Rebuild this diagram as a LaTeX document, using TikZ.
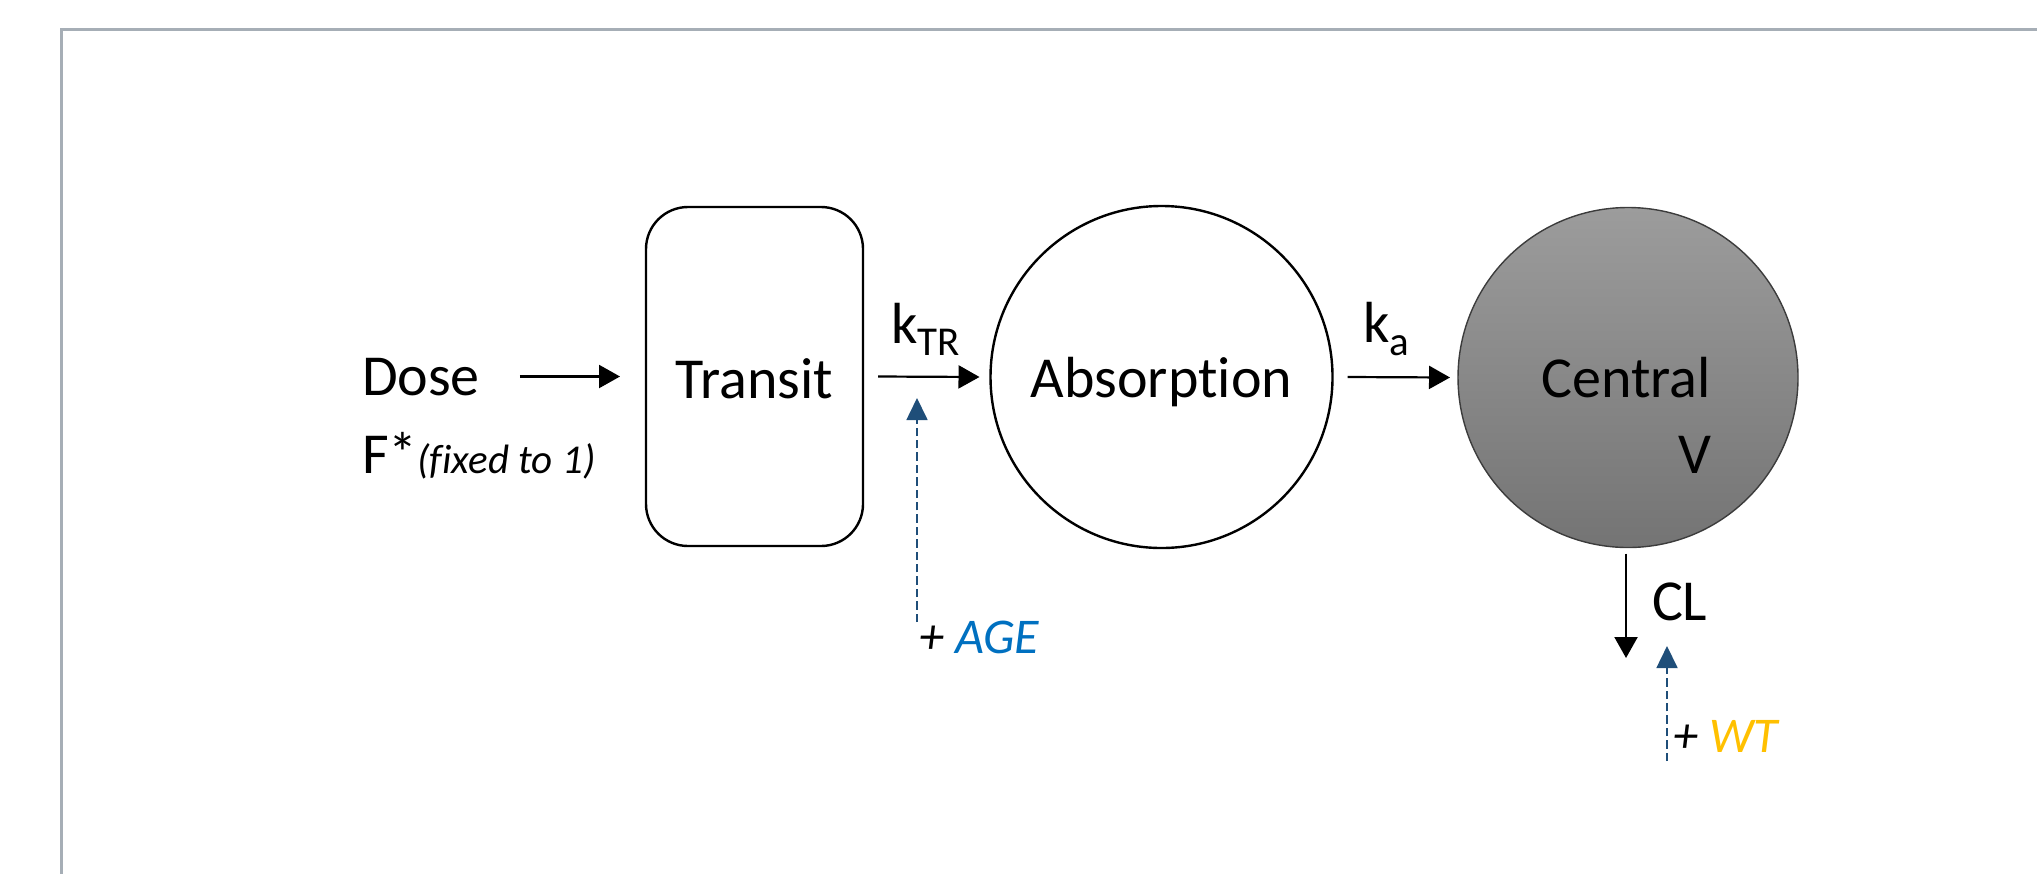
\documentclass[tikz,border=0pt]{standalone}
\usepackage{fontspec}
\setmainfont{Carlito}[Ligatures={NoCommon}]
\usetikzlibrary{arrows.meta,calc}

\definecolor{framegray}{RGB}{166,174,182}
\definecolor{covblue}{RGB}{31,78,121}
\definecolor{ageblue}{RGB}{0,112,192}
\definecolor{wtgold}{RGB}{255,192,0}
\definecolor{centraltop}{RGB}{156,156,156}
\definecolor{centralbot}{RGB}{116,116,116}
\definecolor{centralline}{RGB}{60,60,60}

\newcommand{\mainsize}{\fontsize{29}{35}\selectfont}
\newcommand{\subsize}{\fontsize{20.5}{24}\selectfont}
\newcommand{\covsize}{\fontsize{25}{30}\selectfont}

\begin{document}
\begin{tikzpicture}[x=0.5pt,y=-0.5pt,
  lbl/.style={inner sep=0pt, outer sep=0pt, font=\mainsize},
  covlbl/.style={inner sep=0pt, outer sep=0pt, font=\covsize\itshape},
  transitbox/.style={draw, line width=1.2pt, rectangle, rounded corners=21pt,
    minimum width=108.5pt, minimum height=169.5pt, inner sep=0pt, outer sep=0pt},
  absorbc/.style={draw, line width=1.2pt, circle, minimum size=171pt,
    inner sep=0pt, outer sep=0pt},
  centralc/.style={draw=centralline, line width=0.7pt, circle, minimum size=170pt,
    inner sep=0pt, outer sep=0pt, top color=centraltop, bottom color=centralbot},
  flow/.style={line width=1.1pt, -{Triangle[length=10.5pt,width=11.5pt]}},
  cov/.style={covblue, line width=0.85pt, dash pattern=on 4.2pt off 2pt,
    -{Triangle[length=11pt,width=10.5pt]}}
]
\useasboundingbox (0,0) rectangle (2037,873);

% page frame (top and left edges)
\draw[framegray, line width=1.5pt] (61.5,890) -- (61.5,29.5) -- (2050,29.5);

% compartments
\node[transitbox] (transit) at (754.5,376.5) {};
\node[lbl, anchor=base] (transittxt) at (754.5,398) {Transit};
\node[absorbc] (absorption) at (1161.5,377) {};
\node[lbl, anchor=base] (absorptiontxt) at (1161.5,397) {Absorption};
\node[centralc] (central) at (1628,377.5) {};
\node[lbl, anchor=base east] (centraltxt) at (1711,397) {Central};
\node[lbl, anchor=base east] (vtxt) at (1711,473) {V};

% dosing
\node[lbl, anchor=base west] (dose) at (362,395) {Dose};
\node[lbl, anchor=base west] (fbio) at (362,473) {F*{\subsize\itshape(fixed to 1)}};

% rate constants
\node[lbl, anchor=base west] (ktr) at (891,343) {k\raisebox{-6pt}{\subsize TR}};
\node[lbl, anchor=base west] (ka) at (1363,342) {k\raisebox{-6.5pt}{\subsize a}};
\node[lbl, anchor=base west] (cl) at (1652,620) {CL};

% flows
\draw[flow] ($(dose.east |- transit.west)+(40,0)$) -- ($(transit.west)+(-26,0)$);
\draw[flow] ($(transit.east)+(15,0)$) -- ($(absorption.west)+(-11,0)$);
\draw[flow] ($(absorption.east)+(15,0)$) -- ($(central.west)+(-8,0)$);
\coordinate (clsink) at (1626,658);
\draw[flow] ($(central.south)+(-2,6)$) -- (clsink);

% covariate effects
\node[covlbl, anchor=base west] (agetxt) at (919,653) {+ \textcolor{ageblue}{AGE}};
\coordinate (agefoot) at (917,622);
\coordinate (agetip) at (917,398);
\draw[cov] (agefoot) -- (agetip);

\node[covlbl, anchor=base west] (wttxt) at (1673,752) {+ \textcolor{wtgold}{WT}};
\coordinate (wtfoot) at (1667,761);
\coordinate (wttip) at (1667,646);
\draw[cov] (wtfoot) -- (wttip);
\end{tikzpicture}
\end{document}
